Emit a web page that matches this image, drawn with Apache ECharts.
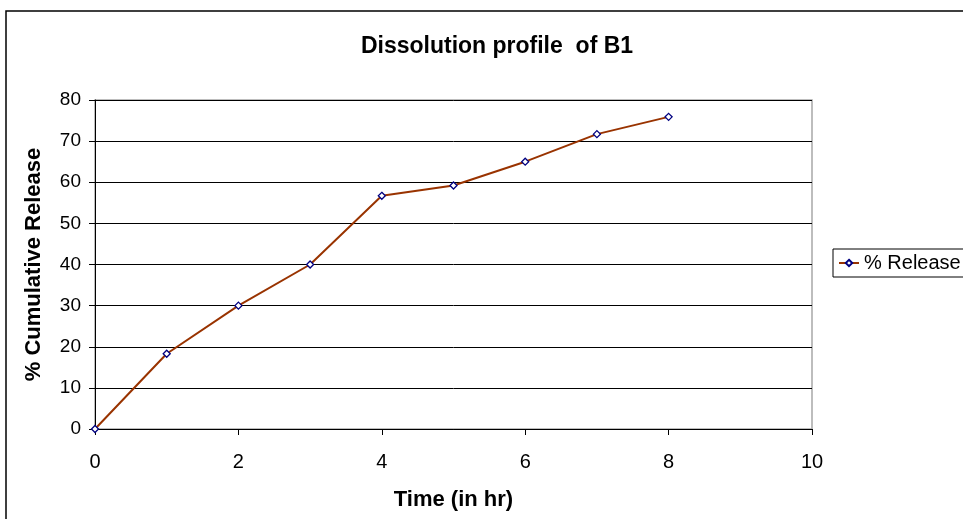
<!DOCTYPE html>
<html><head><meta charset="utf-8">
<script src="https://cdn.jsdelivr.net/npm/echarts@6/dist/echarts.min.js"></script>
<style>html,body{margin:0;padding:0;background:#fff}#c{width:963px;height:519px}</style>
</head><body><div id="c"></div>
<script>
const timeHr = [0, 1, 2, 3, 4, 5, 6, 7, 8];
const releasePct = [0, 18.3, 30, 40, 56.7, 59.2, 65, 71.7, 75.9];
const seriesName = '% Release';
const titleText = 'Dissolution profile  of B1';
const xName = 'Time (in hr)';
const yName = '% Cumulative Release';

const chart = echarts.init(document.getElementById('c'));
const font = 'Arial, "Liberation Sans", sans-serif';
chart.setOption({
  animation: false,
  backgroundColor: '#fff',
  textStyle: {fontFamily: font},
  title: {text: titleText, left: 492, top: 30, textAlign: 'center',
    textStyle: {fontFamily: font, fontSize: 23, fontWeight: 'bold', color: '#000'}},
  graphic: [{type: 'rect', shape: {x: 6, y: 11, width: 980, height: 540},
    style: {fill: 'none', stroke: '#000', lineWidth: 1.5}, silent: true}],
  legend: {left: 833, top: 249, orient: 'vertical', itemWidth: 20, itemHeight: 8,
    padding: [4, 6, 4, 5], borderColor: '#000', borderWidth: 1, itemGap: 0,
    textStyle: {fontFamily: font, fontSize: 20, color: '#000'},
    data: [seriesName]},
  grid: {left: 95, top: 100, width: 717, height: 329, show: true, borderColor: '#a8a8a8', borderWidth: 1.5, backgroundColor: '#fff'},
  xAxis: {type: 'value', min: 0, max: 10, interval: 2, name: xName, nameLocation: 'middle', nameGap: 60,
    nameTextStyle: {fontFamily: font, fontSize: 22, fontWeight: 'bold', color: '#000'},
    axisLine: {lineStyle: {color: '#000', width: 1}},
    axisTick: {show: true, length: 6, lineStyle: {color: '#000'}},
    axisLabel: {fontFamily: font, fontSize: 20, color: '#000', margin: 23},
    splitLine: {show: false}},
  yAxis: {type: 'value', min: 0, max: 80, interval: 10, name: yName, nameLocation: 'middle', nameGap: 50,
    nameTextStyle: {fontFamily: font, fontSize: 22, fontWeight: 'bold', color: '#000'},
    axisLine: {show: true, lineStyle: {color: '#000', width: 1}},
    axisTick: {show: true, length: 6, lineStyle: {color: '#000'}},
    axisLabel: {fontFamily: font, fontSize: 19, color: '#000', margin: 14},
    splitLine: {show: true, lineStyle: {color: '#000', width: 1}}},
  series: [{name: seriesName, type: 'line', data: timeHr.map((t, i) => [t, releasePct[i]]),
    symbol: 'diamond', symbolSize: 7, showAllSymbol: true,
    lineStyle: {color: '#993300', width: 2},
    itemStyle: {color: '#fff', borderColor: '#000080', borderWidth: 1.3}}]
});
</script></body></html>
